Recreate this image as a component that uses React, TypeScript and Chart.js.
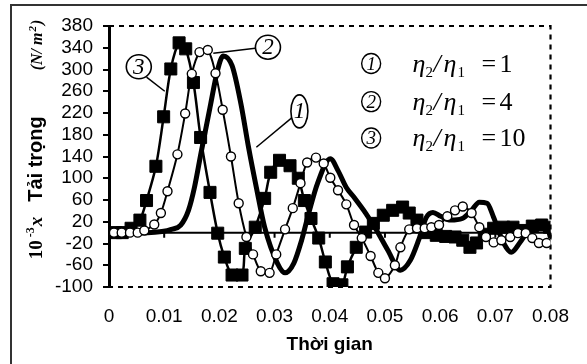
import React, { useEffect, useRef } from "react";
import { Chart, registerables } from "chart.js";

Chart.register(...registerables);

// ---------- data ----------
const X_TICKS = [0, 0.01, 0.02, 0.03, 0.04, 0.05, 0.06, 0.07, 0.08];
const X_TICK_LABELS = ["0", "0.01", "0.02", "0.03", "0.04", "0.05", "0.06", "0.07", "0.08"];
const Y_TICKS = [-100, -60, -20, 20, 60, 100, 140, 180, 220, 260, 300, 340, 380];

// series 1 : eta2/eta1 = 1 (thick line)
const S1_T = [0, 0.007, 0.0096, 0.0113, 0.013, 0.0144, 0.0155, 0.0167, 0.0183, 0.0197, 0.0207, 0.0223, 0.0239, 0.0253, 0.0267, 0.0282, 0.0305, 0.0319, 0.0335, 0.0349, 0.0362, 0.0378, 0.0401, 0.0415, 0.043, 0.0444, 0.0465, 0.0485, 0.0505, 0.0528, 0.0546, 0.0561, 0.0575, 0.0587, 0.0601, 0.0619, 0.064, 0.0657, 0.0671, 0.0685, 0.0697, 0.0715, 0.0729, 0.0744, 0.0763, 0.0781, 0.0795, 0.08];
const S1_V = [0, 0, 2, 6, 14, 41, 84, 148, 230, 300, 325, 307, 237, 156, 83, 10, -56, -74, -56, -14, 36, 91, 136, 114, 83, 65, 36, 4, -32, -69, -51, -14, 28, 37, 30, 23, 26, 41, 56, 54, 28, -19, -36, -19, 8, 17, 8, -10];

// series 2 : eta2/eta1 = 4 (open circles)
const S2_T = [0.0009, 0.0023, 0.0038, 0.0052, 0.0064, 0.0082, 0.0094, 0.0106, 0.0124, 0.0138, 0.015, 0.0164, 0.0179, 0.0193, 0.0206, 0.0221, 0.0235, 0.0249, 0.0261, 0.0275, 0.0291, 0.0303, 0.0319, 0.0333, 0.0347, 0.0359, 0.0375, 0.0389, 0.0401, 0.0415, 0.043, 0.0444, 0.0458, 0.0474, 0.0488, 0.05, 0.0518, 0.0528, 0.0544, 0.0558, 0.0572, 0.0584, 0.0598, 0.0613, 0.0627, 0.0641, 0.0657, 0.0671, 0.0683, 0.0697, 0.0711, 0.0727, 0.0741, 0.0755, 0.0767, 0.0779, 0.0793];
const S2_V = [0, 0, 0, 0, 4, 15, 36, 76, 144, 219, 292, 332, 336, 293, 226, 140, 54, -8, -40, -71, -74, -40, 6, 45, 91, 129, 138, 127, 101, 78, 52, 14, -10, -43, -74, -84, -60, -27, 6, 8, 8, 10, 14, 30, 41, 48, 36, 10, -8, -18, -14, -8, -1, -1, -10, -19, -19];

// series 3 : eta2/eta1 = 10 (filled squares)
const S3_T = [0.0012, 0.0024, 0.004, 0.0056, 0.0068, 0.0085, 0.0099, 0.0112, 0.0127, 0.0139, 0.0153, 0.0166, 0.0183, 0.0197, 0.0209, 0.0223, 0.0241, 0.0247, 0.0265, 0.0282, 0.0293, 0.0309, 0.0328, 0.0343, 0.0354, 0.0366, 0.038, 0.0392, 0.0406, 0.0422, 0.0432, 0.0448, 0.0465, 0.0479, 0.0497, 0.0514, 0.0532, 0.0544, 0.0558, 0.0575, 0.0593, 0.061, 0.0627, 0.0641, 0.0654, 0.0666, 0.068, 0.0697, 0.0715, 0.0732, 0.0749, 0.0767, 0.0784, 0.0798];
const S3_V = [0, 0, 8, 23, 59, 122, 213, 301, 349, 338, 276, 175, 74, -1, -45, -78, -78, -29, 10, 63, 111, 133, 123, 100, 59, 26, -10, -54, -94, -96, -63, -27, 1, 17, 32, 41, 47, 36, 23, 0, -5, -7, -8, -14, -27, -19, -3, 8, 10, 10, 4, 12, 14, 10];

const SERIES_NUMBERS = ["1", "2", "3"];
const LEGEND_RATIOS = ["1", "4", "10"];
const X_TITLE = "Thời gian";
const Y_TITLE_MAIN = "Tải trọng";

// annotation anchors, in data units (t, value)
const LEGEND_CIRCLE_T = 0.0475;
const LEGEND_TEXT_T = 0.055;
const LEGEND_ROW_V = [311, 241, 174];
const CALLOUTS = [
  { n: "1", c: [0.0345, 223], from: [0.0337, 216], to: [0.0267, 157], ellipse: true },
  { n: "2", c: [0.0288, 341], from: [0.0265, 339], to: [0.0189, 330], ellipse: false },
  { n: "3", c: [0.0054, 305], from: [0.0068, 286], to: [0.0101, 260], ellipse: false },
];

const SERIF = '"Liberation Serif", "Times New Roman", serif';
const SANS = '"Liberation Sans", Arial, sans-serif';

type Run = { t: string; f: string; dy?: number; dx?: number };

function runsWidth(ctx: CanvasRenderingContext2D, runs: Run[]) {
  let w = 0;
  for (const r of runs) {
    ctx.font = r.f;
    w += ctx.measureText(r.t).width + (r.dx || 0);
  }
  return w;
}

function drawRuns(ctx: CanvasRenderingContext2D, x: number, y: number, runs: Run[], center: boolean) {
  let cx = center ? x - runsWidth(ctx, runs) / 2 : x;
  ctx.textAlign = "left";
  ctx.textBaseline = "alphabetic";
  for (const r of runs) {
    ctx.font = r.f;
    cx += r.dx || 0;
    ctx.fillText(r.t, cx, y + (r.dy || 0));
    cx += ctx.measureText(r.t).width;
  }
}

const decor = {
  id: "decor",
  beforeDatasetsDraw(chart: any) {
    const { ctx, chartArea: a, scales } = chart;
    const xs = scales.x;
    const ys = scales.y;
    ctx.save();
    ctx.strokeStyle = "#000";
    ctx.lineWidth = 2.2;
    ctx.setLineDash([5, 5]);
    ctx.beginPath();
    ctx.moveTo(a.left, a.top);
    ctx.lineTo(a.right, a.top);
    ctx.lineTo(a.right, a.bottom);
    ctx.lineTo(a.left, a.bottom);
    ctx.stroke();
    ctx.setLineDash([]);
    const y0 = ys.getPixelForValue(0);
    ctx.lineWidth = 2;
    ctx.beginPath();
    ctx.moveTo(a.left, y0);
    ctx.lineTo(a.right, y0);
    for (const t of X_TICKS) {
      const px = xs.getPixelForValue(t);
      ctx.moveTo(px, y0);
      ctx.lineTo(px, y0 + 5);
    }
    ctx.stroke();
    ctx.restore();
  },
  afterDraw(chart: any) {
    const { ctx, chartArea: a, scales } = chart;
    const xs = scales.x;
    const ys = scales.y;
    const P = (t: number, v: number) => [xs.getPixelForValue(t), ys.getPixelForValue(v)];
    ctx.save();
    ctx.fillStyle = "#000";

    // outer frame (left and top edges)
    ctx.strokeStyle = "#333";
    ctx.lineWidth = 2;
    ctx.beginPath();
    ctx.moveTo(11, 364);
    ctx.lineTo(11, 5);
    ctx.lineTo(587, 5);
    ctx.stroke();
    ctx.strokeStyle = "#000";

    // callouts
    for (const c of CALLOUTS) {
      const [cx, cy] = P(c.c[0], c.c[1]);
      const [fx, fy] = P(c.from[0], c.from[1]);
      const [tx, ty] = P(c.to[0], c.to[1]);
      ctx.lineWidth = 1.5;
      ctx.beginPath();
      ctx.moveTo(fx, fy);
      ctx.lineTo(tx, ty);
      ctx.stroke();
      ctx.beginPath();
      if (c.ellipse) ctx.ellipse(cx, cy, 8.5, 16.5, 0, 0, Math.PI * 2);
      else ctx.ellipse(cx, cy, 12.5, 12, 0, 0, Math.PI * 2);
      ctx.fillStyle = "#fff";
      ctx.fill();
      ctx.lineWidth = 1.6;
      ctx.stroke();
      ctx.fillStyle = "#000";
      ctx.font = `italic 23px ${SERIF}`;
      ctx.textAlign = "center";
      ctx.textBaseline = "middle";
      ctx.fillText(c.n, cx, cy + 1);
    }

    // legend
    for (let i = 0; i < 3; i++) {
      const [cx, cy] = P(LEGEND_CIRCLE_T, LEGEND_ROW_V[i]);
      ctx.lineWidth = 1.4;
      ctx.beginPath();
      ctx.ellipse(cx, cy, 9.5, 10, 0, 0, Math.PI * 2);
      ctx.stroke();
      ctx.font = `italic 19px ${SERIF}`;
      ctx.textAlign = "center";
      ctx.textBaseline = "middle";
      ctx.fillText(SERIES_NUMBERS[i], cx, cy + 1);
      const [x0] = P(LEGEND_TEXT_T, 0);
      const by = cy + 8;
      ctx.textAlign = "left";
      ctx.textBaseline = "alphabetic";
      const big = `26px ${SERIF}`;
      const bigI = `italic 26px ${SERIF}`;
      const small = `15px ${SERIF}`;
      ctx.font = bigI;
      ctx.fillText("η", x0, by);
      ctx.font = small;
      ctx.fillText("2", x0 + 13, by + 5);
      ctx.font = bigI;
      ctx.fillText("/", x0 + 21, by);
      ctx.fillText("η", x0 + 31, by);
      ctx.font = small;
      ctx.fillText("1", x0 + 45, by + 5);
      ctx.font = big;
      ctx.fillText("=", x0 + 69, by);
      ctx.fillText(LEGEND_RATIOS[i], x0 + 87, by);
    }

    // x title
    ctx.fillStyle = "#000";
    ctx.font = `bold 19px ${SANS}`;
    ctx.textAlign = "center";
    ctx.textBaseline = "alphabetic";
    ctx.fillText(X_TITLE, (a.left + a.right) / 2, 350);

    // y title (rotated, three parts)
    const tx = 36;
    const drawRot = (yc: number, runs: Run[]) => {
      ctx.save();
      ctx.translate(tx, yc);
      ctx.rotate(-Math.PI / 2);
      drawRuns(ctx, 0, 6, runs, true);
      ctx.restore();
    };
    drawRot(45, [
      { t: "(N/ m", f: `bold italic 16px ${SERIF}` },
      { t: "2", f: `bold italic 11px ${SERIF}`, dy: -6, dx: 1 },
      { t: ")", f: `bold italic 16px ${SERIF}`, dx: 1 },
    ]);
    drawRot(159, [{ t: Y_TITLE_MAIN, f: `bold 20px ${SANS}` }]);
    drawRot(238, [
      { t: "10", f: `bold 19px ${SERIF}` },
      { t: "-3", f: `bold 12px ${SERIF}`, dy: -8, dx: 3 },
      { t: "x", f: `bold italic 19px ${SERIF}`, dx: 1 },
    ]);
    ctx.restore();
  },
};

export default function App() {
  const ref = useRef<HTMLCanvasElement | null>(null);
  useEffect(() => {
    const cv = ref.current;
    if (!cv) return;
    const mk = (T: number[], V: number[]) => T.map((t, i) => ({ x: t, y: V[i] }));
    const chart = new Chart(cv, {
      type: "line",
      data: {
        datasets: [
          {
            label: "η2/η1 = 4",
            data: mk(S2_T, S2_V),
            borderColor: "#000",
            borderWidth: 2,
            tension: 0.3,
            pointStyle: "circle",
            pointRadius: 4.5,
            pointBackgroundColor: "#fff",
            pointBorderColor: "#000",
            pointBorderWidth: 1.4,
            order: 0,
          },
          {
            label: "η2/η1 = 10",
            data: mk(S3_T, S3_V),
            borderColor: "#000",
            borderWidth: 2.5,
            tension: 0.3,
            pointStyle: "rect",
            pointRadius: 8.5,
            pointBackgroundColor: "#000",
            pointBorderColor: "#000",
            pointBorderWidth: 1,
            order: 1,
          },
          {
            label: "η2/η1 = 1",
            data: mk(S1_T, S1_V),
            borderColor: "#000",
            borderWidth: 5,
            cubicInterpolationMode: "monotone",
            pointRadius: 0,
            order: 2,
          },
        ],
      },
      options: {
        responsive: false,
        animation: false,
        layout: { padding: { top: 26, right: 17, left: 0, bottom: 0 } },
        plugins: { legend: { display: false }, tooltip: { enabled: false } },
        scales: {
          x: {
            type: "linear",
            min: 0,
            max: 0.08,
            afterFit: (s: any) => {
              s.height = 364 - 287;
            },
            afterBuildTicks: (s: any) => {
              s.ticks = X_TICKS.map((v) => ({ value: v }));
            },
            grid: { display: false, drawTicks: false },
            border: { display: false },
            ticks: {
              autoSkip: false,
              maxRotation: 0,
              padding: 18,
              color: "#000",
              font: { family: SANS, size: 19 },
              callback: (_v: any, i: number) => X_TICK_LABELS[i],
            },
          },
          y: {
            type: "linear",
            min: -100,
            max: 380,
            afterFit: (s: any) => {
              s.width = 109;
            },
            afterBuildTicks: (s: any) => {
              s.ticks = Y_TICKS.map((v) => ({ value: v }));
            },
            grid: { drawOnChartArea: false, drawTicks: true, tickLength: 6, color: "#000", lineWidth: 2 },
            border: { display: true, color: "#000", width: 3 },
            ticks: {
              autoSkip: false,
              padding: 10,
              color: "#000",
              font: { family: SANS, size: 19 },
              callback: (v: any) => String(v),
            },
          },
        },
      },
      plugins: [decor],
    } as any);
    return () => chart.destroy();
  }, []);
  return (
    <div style={{ position: "absolute", left: 0, top: 0, width: 587, height: 364, background: "#fff" }}>
      <canvas ref={ref} width={587} height={364} style={{ display: "block" }} />
    </div>
  );
}
